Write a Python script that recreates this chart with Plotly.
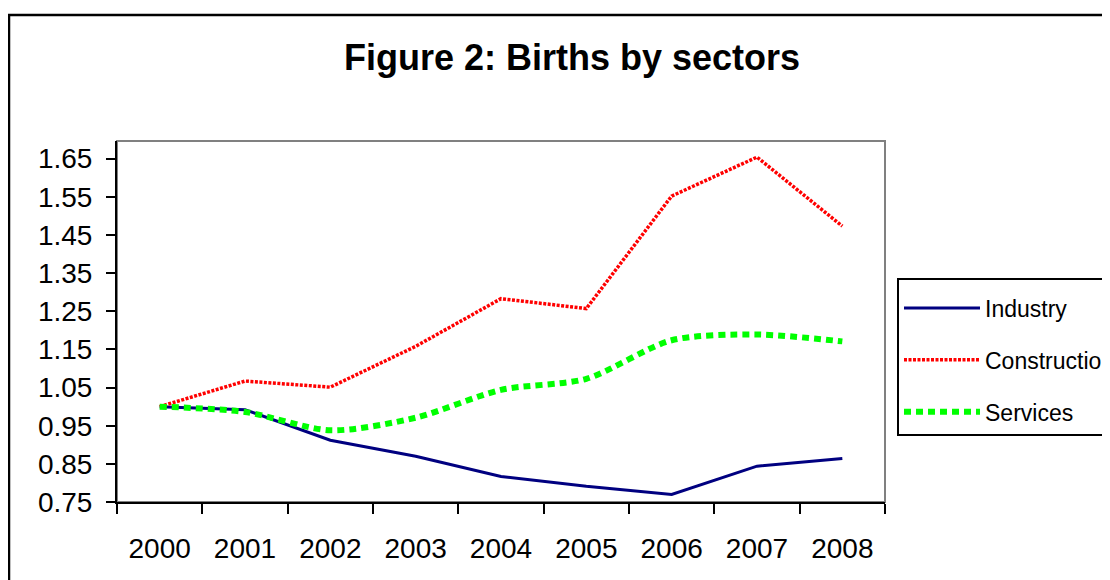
import plotly.graph_objects as go

years = ["2000", "2001", "2002", "2003", "2004", "2005", "2006", "2007", "2008"]
industry = [1.00, 0.992, 0.912, 0.870, 0.817, 0.791, 0.770, 0.844, 0.864]
construction = [1.00, 1.067, 1.051, 1.158, 1.283, 1.257, 1.552, 1.654, 1.473]
services = [1.00, 0.986, 0.938, 0.971, 1.044, 1.073, 1.174, 1.189, 1.171]
ytick_vals = [0.75, 0.85, 0.95, 1.05, 1.15, 1.25, 1.35, 1.45, 1.55, 1.65]

# page body has an 8px margin: work in page coords shifted by 8
OFF = 8
W, H = 1110 - OFF, 580 - OFF
L, R, T, B = 117 - OFF, W - (885 - OFF), 141 - OFF, H - (502 - OFF)
pw, ph = W - L - R, H - T - B

def px_x(x):
    return (x - OFF - L) / pw

def px_y(y):
    return (H - B - (y - OFF)) / ph

fig = go.Figure()
fig.add_trace(go.Scatter(x=years, y=industry, name="Industry", mode="lines",
                         line=dict(color="#000080", width=3), legendgroup="a"))
fig.add_trace(go.Scatter(x=years, y=construction, name="Construction", mode="lines",
                         line=dict(color="#FF0000", width=3.5, dash="3px,1.5px"), legendgroup="b"))
fig.add_trace(go.Scatter(x=years, y=services, name="Services", mode="lines",
                         line=dict(color="#00FF00", width=6, dash="7px,5px", shape="spline", smoothing=0.8),
                         legendgroup="c"))

font_family = "Liberation Sans, Arial, sans-serif"

fig.update_layout(
    width=W, height=H,
    margin=dict(l=L, r=R, t=T, b=B, autoexpand=False),
    paper_bgcolor="white", plot_bgcolor="white",
    font=dict(family=font_family, color="black"),
    title=dict(text="<b>Figure 2: Births by sectors</b>", font=dict(size=36, family=font_family, color="black"),
               x=(572 - OFF) / W, xref="container", xanchor="center",
               y=1 - (57 - OFF) / H, yref="container", yanchor="middle"),
    xaxis=dict(type="category", range=[-0.5, 8.5], showgrid=False, zeroline=False,
               showline=True, linecolor="black", linewidth=2,
               ticks="outside", ticklen=10, tickwidth=2, tickcolor="black",
               tickson="boundaries", tickfont=dict(size=28, color="black"),
               ticklabelstandoff=20),
    yaxis=dict(range=[0.75, 0.75 + (H - B - T) / 381.5], showgrid=False, zeroline=False,
               showline=True, linecolor="black", linewidth=2,
               ticks="outside", ticklen=9, tickwidth=2, tickcolor="black",
               tickvals=ytick_vals, tickformat=".2f", tickfont=dict(size=28, color="black"),
               ticklabelstandoff=8),
    legend=dict(x=px_x(897), y=px_y(278), xanchor="left", yanchor="top",
                bgcolor="white", bordercolor="black", borderwidth=2,
                font=dict(size=23, color="black", family=font_family),
                title=dict(text=" ", font=dict(size=5)),
                traceorder="grouped", tracegroupgap=19, itemwidth=76),
    showlegend=True,
    shapes=[
        dict(type="rect", xref="paper", yref="paper", x0=0, x1=1, y0=0, y1=1,
             line=dict(color="#808080", width=2), layer="below"),
        dict(type="rect", xref="paper", yref="paper", x0=px_x(9), x1=px_x(1300),
             y0=px_y(800), y1=px_y(15), line=dict(color="black", width=2.5), layer="below"),
    ],
)

fig.write_html("out.html")
